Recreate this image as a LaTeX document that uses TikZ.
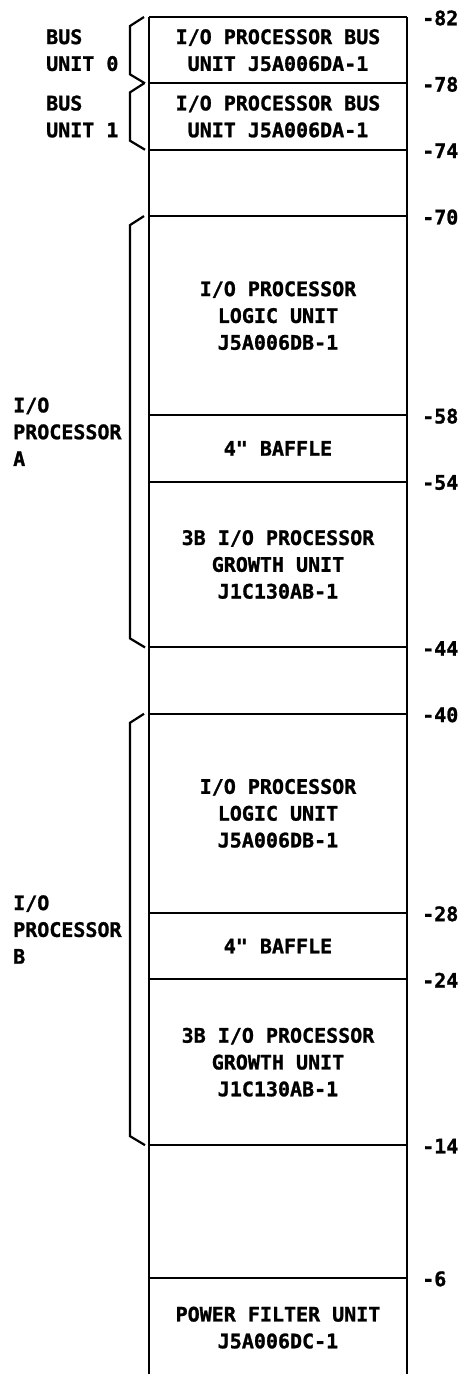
\documentclass[tikz,border=0pt]{standalone}
\usepackage{fontspec}
\setmonofont{DejaVu Sans Mono}[BoldFeatures={FakeBold=1.2}]
\usepackage{tikz}
\usetikzlibrary{positioning,calc}
\newcommand{\rackfont}{\fontsize{20}{26.8}\selectfont\ttfamily\bfseries}

\begin{document}
\begin{tikzpicture}[
  x=1pt, y=-1pt,
  rail/.style={line width=2.6pt},
  shelf/.style={line width=2pt},
  brk/.style={line width=2.2pt},
  slot/.style={font=\rackfont, align=center, inner sep=0pt},
  lvl/.style={font=\rackfont, anchor=west, inner sep=0pt},
  grp/.style={font=\rackfont, align=left, anchor=west, inner sep=0pt}
]
\useasboundingbox (0,0) rectangle (460,1374);
\foreach \u in {82,78,74,70,58,54,44,40,28,24,14,6,0}{
  \coordinate (L\u) at (149,{17+(82-\u)*16.59});
  \coordinate (R\u) at (407,{17+(82-\u)*16.59});
}
\draw[rail] (L82) -- (L0);
\draw[rail] (R82) -- (R0);
\foreach \u in {82,78,74,70,58,54,44,40,28,24,14,6}{
  \draw[shelf] (L\u) -- (R\u);
  \node[lvl] (n\u) at ($(R\u)+(15,1)$) {-\u};
}

\node[slot] (bus0) at ($(L82)!0.5!(R78)$) {I/O PROCESSOR BUS\\UNIT J5A006DA-1};
\node[slot] (bus1) at ($(L78)!0.5!(R74)$) {I/O PROCESSOR BUS\\UNIT J5A006DA-1};
\node[slot] (logicA) at ($(L70)!0.5!(R58)$) {I/O PROCESSOR\\LOGIC UNIT\\J5A006DB-1};
\node[slot] (baffleA) at ($(L58)!0.5!(R54)$) {4" BAFFLE};
\node[slot] (growthA) at ($(L54)!0.5!(R44)$) {3B I/O PROCESSOR\\GROWTH UNIT\\J1C130AB-1};
\node[slot] (logicB) at ($(L40)!0.5!(R28)$) {I/O PROCESSOR\\LOGIC UNIT\\J5A006DB-1};
\node[slot] (baffleB) at ($(L28)!0.5!(R24)$) {4" BAFFLE};
\node[slot] (growthB) at ($(L24)!0.5!(R14)$) {3B I/O PROCESSOR\\GROWTH UNIT\\J1C130AB-1};
\node[slot] (pfu) at ($(L6)!0.5!(R0)$) {POWER FILTER UNIT\\J5A006DC-1};

\foreach \a/\b in {82/78,78/74,70/44,40/14}{
  \draw[brk] ($(L\a)+(-5,0)$) -- ($(L\a)+(-19,9)$) -- ($(L\b)+(-19,-9)$) -- ($(L\b)+(-4,0)$);
}

\node[grp] (grpbus0) at ($(L82)!0.5!(L78)+(-103,0)$) {BUS\\UNIT 0};
\node[grp] (grpbus1) at ($(L78)!0.5!(L74)+(-103,0)$) {BUS\\UNIT 1};
\node[grp] (grpa) at ($(L70)!0.5!(L44)+(-136,0)$) {I/O\\PROCESSOR\\A};
\node[grp] (grpb) at ($(L40)!0.5!(L14)+(-136,0)$) {I/O\\PROCESSOR\\B};
\end{tikzpicture}
\end{document}
